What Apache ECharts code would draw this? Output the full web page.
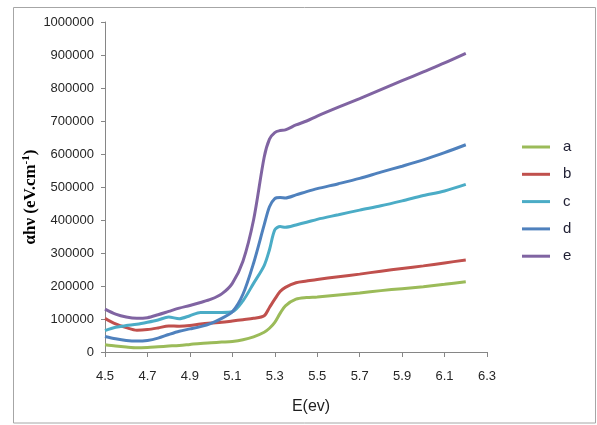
<!DOCTYPE html>
<html>
<head>
<meta charset="utf-8">
<script src="https://cdn.jsdelivr.net/npm/echarts@6/dist/echarts.min.js"></script>
<style>html,body{margin:0;padding:0;background:#fff}#c{width:597px;height:425px}</style>
</head>
<body>
<div id="c"></div>
<script>
var E = [4.5,4.55,4.6,4.65,4.7,4.75,4.8,4.85,4.9,4.95,5.0,5.05,5.1,5.15,5.2,5.25,5.275,5.3,5.325,5.35,5.4,5.45,5.5,5.6,5.7,5.8,5.9,6.0,6.1,6.2];
var seriesA = [22000,18000,15000,13000,14000,16000,18000,20000,23000,26000,28000,30000,32000,37000,46000,60000,72000,90000,117000,140000,160000,165000,167000,173000,179000,186000,192000,198000,205000,213000];
var seriesB = [102000,85000,74000,66000,68000,73000,79000,78000,80000,85000,88000,90000,94000,98000,102000,110000,135000,160000,183000,196000,210000,215000,220000,228000,236000,245000,253000,261000,270000,279000];
var seriesC = [65000,75000,80000,84000,90000,97000,106000,101000,110000,120000,120000,120000,122000,155000,208000,262000,310000,370000,380000,378000,385000,393000,402000,416000,430000,443000,458000,474000,488000,508000];
var seriesD = [47000,40000,35000,33000,35000,42000,53000,63000,70000,77000,87000,102000,122000,175000,269000,385000,440000,465000,468000,467000,476000,486000,495000,510000,526000,545000,563000,582000,604000,628000];
var seriesE = [130000,115000,106000,102000,104000,113000,123000,133000,141000,150000,160000,176000,208000,275000,400000,590000,645000,665000,671000,673000,688000,700000,715000,742000,768000,795000,822000,849000,876000,905000];
var names = ['a','b','c','d','e'];
var colors = ['#9BBB59','#C0504D','#4BACC6','#4F81BD','#8064A2'];
var xTicks = [4.5,4.7,4.9,5.1,5.3,5.5,5.7,5.9,6.1,6.3];
var X0 = 4.5;

var all = [seriesA, seriesB, seriesC, seriesD, seriesE];
var series = all.map(function(vals, i){
  return {
    name: names[i], type: 'line', smooth: 0.3, symbol: 'none', showSymbol: false,
    lineStyle: {color: colors[i], width: 3}, itemStyle: {color: colors[i]},
    data: vals.map(function(v, j){ return [+(E[j]-X0).toFixed(4), v]; })
  };
});

var chart = echarts.init(document.getElementById('c'));
chart.setOption({
  animation: false,
  backgroundColor: '#fff',
  grid: {left: 105, top: 22, width: 382, height: 330, containLabel: false},
  xAxis: {
    type: 'value', min: 0, max: +(xTicks[xTicks.length-1]-X0).toFixed(4), interval: 0.2,
    axisLine: {show: true, lineStyle: {color: '#868686', width: 1}},
    axisTick: {show: true, length: 5, lineStyle: {color: '#868686'}},
    splitLine: {show: false},
    axisLabel: {margin: 18, fontSize: 13, color: '#262626', fontFamily: 'Liberation Sans',
      formatter: function(v){ return (v + X0).toFixed(1); }}
  },
  yAxis: {
    type: 'value', min: 0, max: 1000000, interval: 100000,
    axisLine: {show: true, lineStyle: {color: '#868686', width: 1}},
    axisTick: {show: true, length: 4, lineStyle: {color: '#868686'}},
    splitLine: {show: false},
    axisLabel: {margin: 11, fontSize: 13, color: '#262626', fontFamily: 'Liberation Sans',
      formatter: function(v){ return String(Math.round(v)); }}
  },
  legend: {
    orient: 'vertical', left: 517, top: 133,
    itemWidth: 28, itemHeight: 3, itemGap: 9.3, icon: 'rect',
    textStyle: {fontSize: 15, lineHeight: 18, color: '#1f1f33', fontFamily: 'Liberation Sans', padding: [0,0,0,8]},
    data: names
  },
  graphic: [
    {type: 'rect', shape: {x: 13.5, y: 7.5, width: 582, height: 415.5}, style: {fill: 'none', stroke: '#a6a6a6', lineWidth: 1}, silent: true},
    {type: 'text', x: 311, y: 407, style: {text: 'E(ev)', fontSize: 16, fontFamily: 'Liberation Sans', fill: '#1f1f1f', align: 'center', verticalAlign: 'middle'}},
    {type: 'text', x: 30, y: 197, rotation: Math.PI/2,
      style: {text: '{b|αhν (eV.cm}{s|-1}{b|)}', align: 'center', verticalAlign: 'middle', fill: '#000',
        rich: {b: {fontSize: 17, fontWeight: 'bold', fontFamily: 'Liberation Serif', fill: '#000', verticalAlign: 'bottom'},
               s: {fontSize: 11, fontWeight: 'bold', fontFamily: 'Liberation Serif', fill: '#000', verticalAlign: 'top', padding: [0,0,8,0]}}}}
  ],
  series: series
});
</script>
</body>
</html>
